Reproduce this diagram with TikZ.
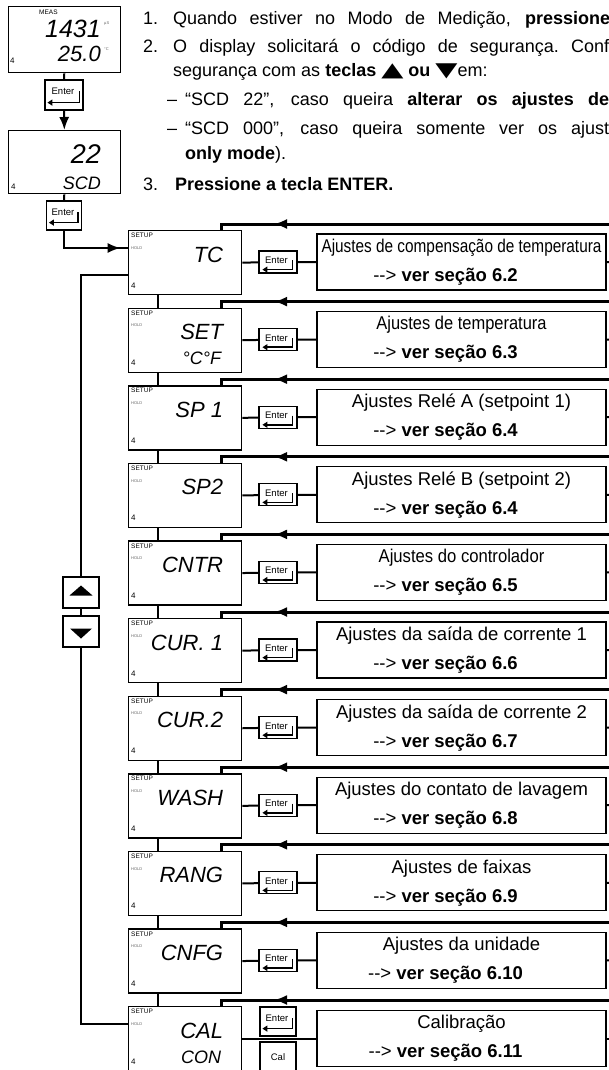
\documentclass[tikz,border=0pt]{standalone}
\usepackage{fontspec}
\setmainfont{Liberation Sans}
\newfontfamily\boxfont{Liberation Sans}
\newfontfamily\symfont{DejaVu Sans}
\usetikzlibrary{arrows.meta,decorations.markings,calc}

\begin{document}
\begin{tikzpicture}[x=1pt, y=-1pt, >={Latex[length=13pt,width=10pt]},
    disp/.style={draw, line width=1.3pt, minimum width=113pt, minimum height=64pt, inner sep=0pt, anchor=north west},
    keybox/.style={draw, line width=1.2pt, minimum width=38pt, minimum height=22pt, inner sep=0pt},
    infobox/.style={draw, line width=1.3pt, minimum width=289pt, minimum height=56pt, inner sep=0pt, align=center,
                    font=\boxfont\fontsize{18.5}{29}\selectfont},
    body/.style={anchor=base west, inner sep=0pt, font=\fontsize{18}{18}\selectfont},
    lcdbig/.style={anchor=base east, inner sep=0pt, font=\boxfont\itshape\fontsize{22}{22}\selectfont},
    lcdsmall/.style={anchor=base east, inner sep=0pt, font=\boxfont\itshape\fontsize{18}{18}\selectfont},
    lcdtag/.style={inner sep=0pt, font=\boxfont\fontsize{6.5}{6.5}\selectfont},
    holdtag/.style={inner sep=0pt, font=\boxfont\fontsize{4}{4}\selectfont, black!60},
    lcdfour/.style={anchor=base west, inner sep=0pt, font=\boxfont\fontsize{8}{8}\selectfont},
    keytxt/.style={inner sep=0pt, font=\boxfont\fontsize{9.5}{9.5}\selectfont},
    keyarrow/.style={line width=1.5pt, -{Triangle[length=5pt,width=6pt]}},
    flow/.style={line width=2pt},
    loopline/.style={line width=1.3pt},
    retline/.style={line width=3pt, postaction={decorate, decoration={markings, mark=at position 341pt with {\arrow{>}}}}}]

    \useasboundingbox (0,0) rectangle (609,1070);
    \clip (0,0) rectangle (609,1070);

    % instrucoes
    \node[body] (n1) at (143,25) {1.};
    \node[body] (t1) at (173,25) {\makebox[437pt][s]{Quando estiver no Modo de Medição, \textbf{pressione}}};
    \node[body] (n2) at (143,53) {2.};
    \node[body] (t2) at (173,53) {\makebox[436pt][s]{O display solicitará o código de segurança.\ Conf}};
    \node[body] (t3) at (173,77) {segurança com as \textbf{teclas} {\symfont\scalebox{1.6}[1.1]{▲}} \textbf{ou} {\symfont\scalebox{1.6}[1.1]{▼}}em:};
    \node[body] (m4) at (167,106) {–};
    \node[body] (t4) at (185,106) {\makebox[424pt][s]{“SCD 22”, caso queira \textbf{alterar os ajustes de}}};
    \node[body] (m5) at (167,135) {–};
    \node[body] (t5) at (185,135) {\makebox[424pt][s]{“SCD 000”, caso queira somente ver os ajust}};
    \node[body] (t6) at (185,159) {\textbf{only mode}).};
    \node[body] (n7) at (143,190) {3.};
    \node[body] (t7) at (175,190) {\textbf{Pressione a tecla ENTER.}};

    % display de medicao
    \node[disp, minimum width=112pt, minimum height=66pt] (dm) at (8,6) {};
    \node[lcdtag, anchor=north west] at (39,10) {MEAS};
    \node[lcdbig, font=\boxfont\itshape\fontsize{25}{25}\selectfont] at (101,38) {1431};
    \node[holdtag, anchor=west] at (104,24) {µS};
    \node[lcdbig] at (101,62) {25.0};
    \node[holdtag, anchor=west] at (104,49) {°C};
    \node[lcdfour] at (10,64) {4};
    \node[keybox, minimum height=30pt] (km) at (64,95) {};
    \node[keytxt, anchor=base] at ([xshift=-1pt,yshift=-15pt]km.north) {Enter};
    \draw[keyarrow] ([xshift=-4pt,yshift=-12pt]km.north east) |- ([xshift=3pt,yshift=8pt]km.south west);
    \draw[flow] (dm) -- (km);

    % codigo de seguranca
    \node[disp, minimum width=112pt, minimum height=63pt] (ds) at (8,130) {};
    \node[lcdbig, font=\boxfont\itshape\fontsize{27}{27}\selectfont] at (101,163) {22};
    \node[lcdsmall] at (101,189) {SCD};
    \node[lcdfour] at (11,189) {4};
    \node[keybox, minimum width=35pt, minimum height=29pt] (ks) at (64,215.5) {};
    \node[keytxt, anchor=base] at ([xshift=-1pt,yshift=-15pt]ks.north) {Enter};
    \draw[keyarrow] ([xshift=-4pt,yshift=-12pt]ks.north east) |- ([xshift=3pt,yshift=8pt]ks.south west);
    \draw[flow,->] (km) -- (ds);
    \draw[flow] (ds) -- (ks);

    % menu de setup
    \foreach \i/\lcd/\subtxt/\txt/\sc/\secno in {
        0/TC//Ajustes de compensação de temperatura/0.83/6.2,
        1/SET/°C°F/Ajustes de temperatura/0.89/6.3,
        2/SP 1//Ajustes Relé A (setpoint 1)/1/6.4,
        3/SP2//Ajustes Relé B (setpoint 2)/1/6.4,
        4/CNTR//Ajustes do controlador/0.9/6.5,
        5/CUR. 1//Ajustes da saída de corrente 1/1/6.6,
        6/CUR.2//Ajustes da saída de corrente 2/1/6.7,
        7/WASH//Ajustes do contato de lavagem/1/6.8,
        8/RANG//Ajustes de faixas/1/6.9,
        9/CNFG//Ajustes da unidade/1/6.10}
    {
        \pgfmathsetmacro\rowy{230+77.6*\i}
        \node[disp] (d\i) at (128,\rowy) {};
        \node[lcdbig] at ([xshift=-19pt,yshift=-32pt]d\i.north east) {\lcd};
        \node[lcdsmall] at ([xshift=-21pt,yshift=-57pt]d\i.north east) {\subtxt};
        \node[lcdtag, anchor=north west] at ([xshift=3pt,yshift=-3pt]d\i.north west) {SETUP};
        \node[holdtag, anchor=west] at ([xshift=3pt,yshift=-18pt]d\i.north west) {HOLD};
        \node[lcdfour] at ([xshift=3pt,yshift=-58pt]d\i.north west) {4};
        \node[keybox] (k\i) at (278,\rowy+32) {};
        \node[keytxt, anchor=base] at ([xshift=-1.5pt,yshift=-13pt]k\i.north) {Enter};
        \draw[keyarrow] ([xshift=-5pt,yshift=-10pt]k\i.north east) |- ([xshift=4pt,yshift=4pt]k\i.south west);
        \node[infobox] (b\i) at (461.5,\rowy+32) {\scalebox{\sc}[1]{\txt}\\-{}-{}> \textbf{ver seção \secno}\rule{32pt}{0pt}};
        \coordinate (o\i) at (615,\rowy+32);
        \coordinate (r\i) at (615,\rowy-6);
        \draw[flow] (d\i.east) -- (k\i) -- (b\i) -- (o\i);
        \draw[retline] (r\i) -| ([xshift=93pt]d\i.north west);
    }

    % calibracao
    \node[disp, minimum height=80pt] (d10) at (128,1006) {};
    \node[lcdbig] at ([xshift=-19pt,yshift=-32pt]d10.north east) {CAL};
    \node[lcdsmall] at ([xshift=-21pt,yshift=-57pt]d10.north east) {CON};
    \node[lcdtag, anchor=north west] at ([xshift=3pt,yshift=-3pt]d10.north west) {SETUP};
    \node[holdtag, anchor=west] at ([xshift=3pt,yshift=-18pt]d10.north west) {HOLD};
    \node[lcdfour] at ([xshift=3pt,yshift=-58pt]d10.north west) {4};
    \node[keybox, minimum width=36pt, minimum height=29pt] (k10) at (278,1021.5) {};
    \node[keytxt, anchor=base] at ([xshift=-1pt,yshift=-15pt]k10.north) {Enter};
    \draw[keyarrow] ([xshift=-4pt,yshift=-12pt]k10.north east) |- ([xshift=3pt,yshift=8pt]k10.south west);
    \node[keybox, minimum width=36pt, minimum height=40pt] (c10) at (278,1062) {};
    \node[keytxt, anchor=base] at ([yshift=-19pt]c10.north) {Cal};
    \node[infobox] (b10) at (461.5,1038.5) {Calibração\\-{}-{}> \textbf{ver seção 6.11}\rule{32pt}{0pt}};
    \coordinate (o10) at (615,1038.5);
    \coordinate (r10) at (615,1000);
    \draw[flow] (b10.west -| d10.east) -- (b10) -- (o10);
    \draw[retline] (r10) -| ([xshift=93pt]d10.north west);

    % ligacoes entre os displays
    \foreach \i [remember=\i as \j (initially 0)] in {1,...,10}
        \draw[loopline] ([xshift=30pt]d\j.south west) -- ([xshift=30pt]d\i.north west);

    % entrada no menu
    \draw[flow, postaction={decorate, decoration={markings, mark=at position 74pt with {\arrow{>}}}}]
        (ks) |- ([yshift=-18pt]d0.north west);

    % teclas de seta e retorno
    \node[keybox, minimum width=36pt, minimum height=31pt] (up) at (81,592.5) {};
    \node[keybox, minimum width=36pt, minimum height=31pt] (dn) at (81,631.5) {};
    \fill ([yshift=7pt]up.center) -- ++(11.5pt,-10pt) -- ++(-23pt,0pt) -- cycle;
    \fill ([yshift=-7pt]dn.center) -- ++(11pt,10pt) -- ++(-22pt,0pt) -- cycle;
    \draw[loopline] ([yshift=-45pt]d0.north west) -| (up);
    \draw[loopline] (up) -- (dn);
    \draw[loopline] (dn) |- ([yshift=-18pt]d10.north west);
\end{tikzpicture}
\end{document}
